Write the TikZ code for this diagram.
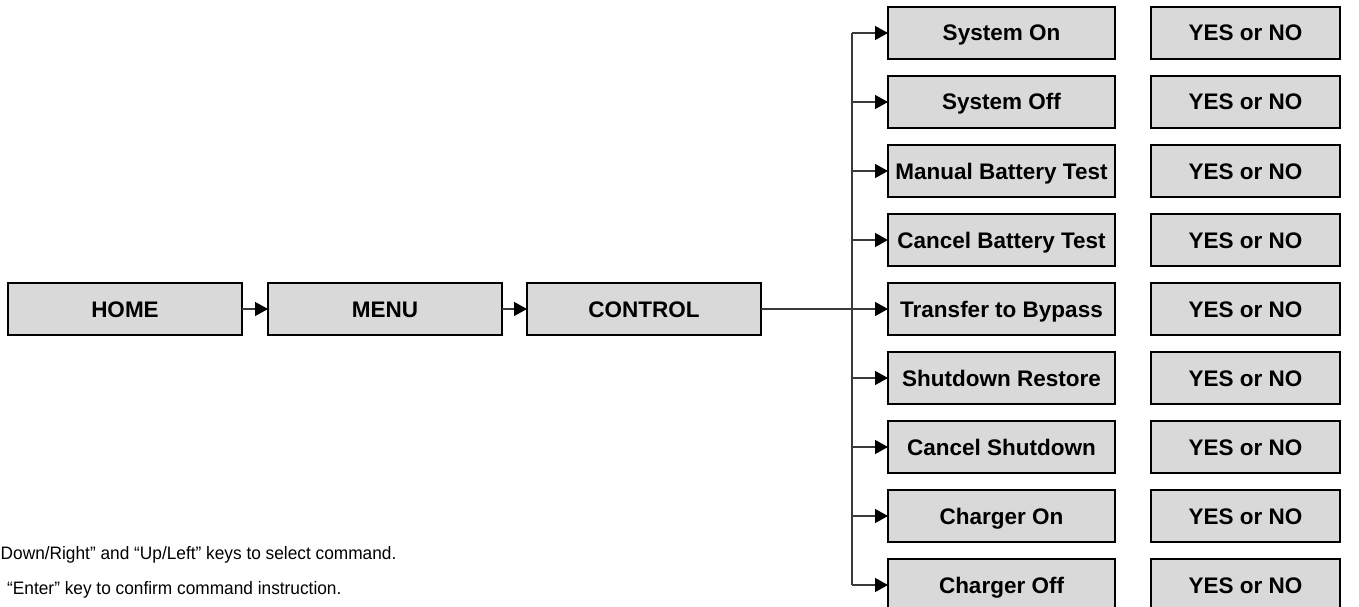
\documentclass[tikz,border=0pt]{standalone}
\usepackage{fontspec}
\setmainfont{Liberation Sans}
\newfontfamily\notefont[FakeStretch=0.96]{Liberation Sans}
\usetikzlibrary{positioning}
\usetikzlibrary{arrows.meta}
\definecolor{boxgray}{HTML}{D9D9D9}
\definecolor{linegray}{HTML}{3A3A3A}
\tikzset{box/.style={draw, line width=1.6pt, fill=boxgray, minimum height=52pt, inner sep=0pt,
    outer sep=0pt, text height=16pt, text depth=0pt,
    font=\fontsize{22.5}{24}\selectfont\bfseries},
  wide/.style={box, minimum width=234pt},
  cmd/.style={box, minimum width=227pt},
  answer/.style={box, minimum width=189pt},
  link/.style={draw=linegray, line width=1.3pt},
  go/.style={link, -{Triangle[length=13pt,width=14pt,color=black]}},
  note/.style={font=\notefont\fontsize{18}{20}\selectfont, inner sep=0pt, anchor=base west}}

\begin{document}
\begin{tikzpicture}[x=1pt, y=-1pt]
    \useasboundingbox (0,0) rectangle (1359,607);
    % menu path
    \node[wide] (home) at (125,309) {HOME};
    \node[wide, right=26pt of home] (menu) {MENU};
    \node[wide, right=25pt of menu] (control) {CONTROL};
    % commands
    \node[cmd] (sysOn) at (1001.5,33) {System On};
    \node[cmd, below=17pt of sysOn] (sysOff) {System Off};
    \node[cmd, below=17pt of sysOff] (manTest) {Manual Battery Test};
    \node[cmd, below=17pt of manTest] (canTest) {Cancel Battery Test};
    \node[cmd, below=17pt of canTest] (bypass) {Transfer to Bypass};
    \node[cmd, below=17pt of bypass] (restore) {Shutdown Restore};
    \node[cmd, below=17pt of restore] (canShut) {Cancel Shutdown};
    \node[cmd, below=17pt of canShut] (chgOn) {Charger On};
    \node[cmd, below=17pt of chgOn] (chgOff) {Charger Off};
    \foreach \c in {sysOn,sysOff,manTest,canTest,bypass,restore,canShut,chgOn,chgOff}
        \node[answer, right=36pt of \c] (\c-yn) {YES or NO};
    % connectors
    \draw[go] (home) -- (menu);
    \draw[go] (menu) -- (control);
    \draw[go] (control) -- (bypass);
    \coordinate (trunkTop) at (852,33);
    \coordinate (trunkBot) at (852,585);
    \draw[link] (trunkTop) -- (trunkBot);
    \foreach \c in {sysOn,sysOff,manTest,canTest,restore,canShut,chgOn,chgOff}
        \draw[go] (\c.west -| trunkTop) -- (\c.west);
    % key notes
    \node[note] (keys) at (0.5,559) {Down/Right” and “Up/Left” keys to select command.};
    \node[note] (enter) at (7,594) {“Enter” key to confirm command instruction.};
\end{tikzpicture}
\end{document}
